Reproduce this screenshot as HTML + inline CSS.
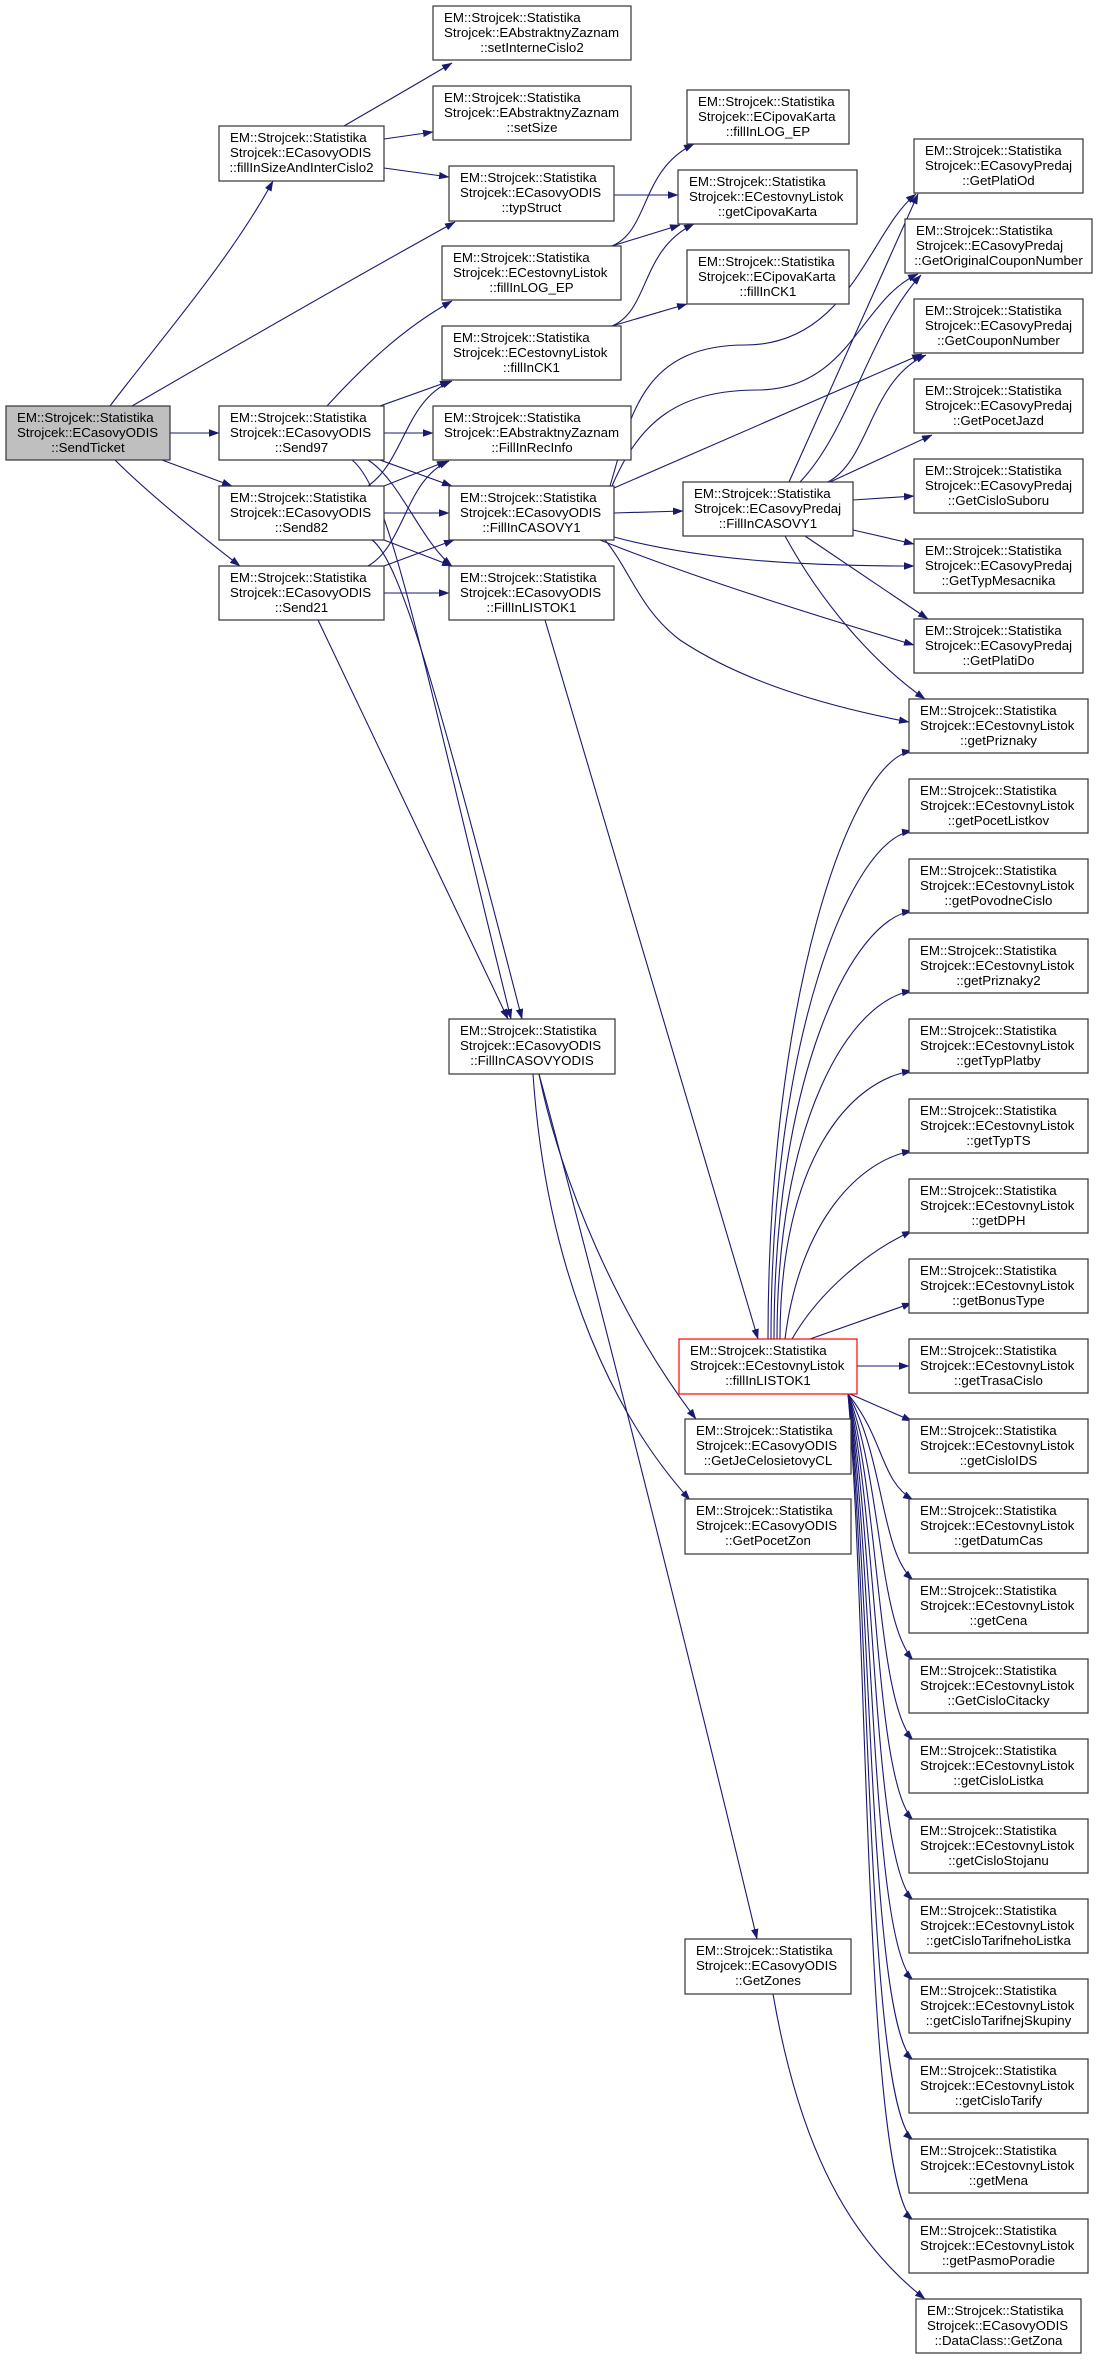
<!DOCTYPE html>
<html><head><meta charset="utf-8"><style>
html,body{margin:0;padding:0;background:#fff}
svg{display:block}
text{font-family:"Liberation Sans",Arial,sans-serif;font-size:13.3px;fill:#000}
.n{fill:#fff;stroke:#333;stroke-width:1.2}
.e{fill:none;stroke:#191970;stroke-width:1.1}
</style></head><body>
<svg width="1097" height="2360" viewBox="0 0 1097 2360" xmlns="http://www.w3.org/2000/svg">
<defs><marker id="a" markerWidth="11" markerHeight="8" refX="10" refY="4" orient="auto" markerUnits="userSpaceOnUse"><path d="M0,0.3 L10.5,4 L0,7.7z" fill="#191970"/></marker></defs>
<g class="e" marker-end="url(#a)">
<path d="M110,406 C160,340 230,260 273,181"/>
<path d="M132,406 C220,355 350,280 455,222"/>
<path d="M170,433 L219,433"/>
<path d="M162,460 L232,486"/>
<path d="M115,460 C150,495 200,535 240,566"/>
<path d="M344,126 C380,105 410,88 452,63"/>
<path d="M384,139 L433,132"/>
<path d="M384,168 L449,177"/>
<path d="M327,406 C360,370 400,330 452,301"/>
<path d="M380,406 L450,381"/>
<path d="M384,433 L433,433"/>
<path d="M380,460 L452,486"/>
<path d="M368,460 C400,480 420,540 452,566"/>
<path d="M352,460 C390,490 420,650 511,1019"/>
<path d="M368,486 C405,460 405,400 452,381"/>
<path d="M384,486 L447,461"/>
<path d="M384,513 L449,513"/>
<path d="M384,540 L452,566"/>
<path d="M372,540 C400,560 440,700 522,1019"/>
<path d="M368,566 C405,545 405,480 449,461"/>
<path d="M384,566 L454,540"/>
<path d="M384,593 L449,593"/>
<path d="M318,620 L508,1019"/>
<path d="M614,195 L678,195"/>
<path d="M612,246 C650,230 640,170 694,144"/>
<path d="M612,246 L680,225"/>
<path d="M612,326 C650,310 640,250 694,224"/>
<path d="M612,326 L687,304"/>
<path d="M610,486 C630,420 640,345 745,345 C850,345 870,230 916,194"/>
<path d="M612,486 C640,420 680,390 757,390 C850,390 860,300 918,274"/>
<path d="M614,488 L922,354"/>
<path d="M614,513 L683,511"/>
<path d="M614,537 C700,560 800,566 914,566"/>
<path d="M600,540 C700,580 830,620 914,645"/>
<path d="M605,540 C630,570 640,610 680,640 C740,680 820,705 909,722"/>
<path d="M789,482 L918,194"/>
<path d="M800,482 C850,430 870,330 921,275"/>
<path d="M828,482 C870,460 870,380 926,355"/>
<path d="M830,482 L932,435"/>
<path d="M853,500 L914,496"/>
<path d="M853,530 L914,544"/>
<path d="M805,536 L928,619"/>
<path d="M785,536 C820,600 870,660 925,699"/>
<path d="M545,620 L758,1339"/>
<path d="M539,1074 C560,1180 620,1320 696,1419"/>
<path d="M533,1074 C545,1250 600,1400 690,1500"/>
<path d="M539,1074 C600,1300 700,1700 757,1939"/>
<path d="M773,1994 C800,2150 850,2240 925,2299"/>
<path d="M768,1339 C768,1000 850,760 912,751"/>
<path d="M771,1339 C771,1040 850,840 912,831"/>
<path d="M774,1339 C774,1080 850,920 912,911"/>
<path d="M777,1339 C777,1120 850,1000 912,991"/>
<path d="M780,1339 C780,1160 850,1080 912,1071"/>
<path d="M785,1339 C800,1220 860,1160 912,1151"/>
<path d="M792,1339 C820,1290 870,1250 912,1231"/>
<path d="M810,1339 L912,1303"/>
<path d="M857,1366 L909,1366"/>
<path d="M850,1394 L912,1421"/>
<path d="M848,1394 C885,1440 880,1480 913,1500"/>
<path d="M848,1394 C885,1460 880,1550 913,1580"/>
<path d="M848,1394 C882,1480 878,1620 913,1660"/>
<path d="M848,1394 C880,1500 876,1700 913,1740"/>
<path d="M848,1394 C878,1520 874,1780 913,1820"/>
<path d="M848,1394 C876,1540 872,1860 913,1900"/>
<path d="M848,1394 C874,1560 870,1940 913,1980"/>
<path d="M848,1394 C872,1580 868,2020 913,2060"/>
<path d="M848,1394 C870,1600 866,2100 913,2140"/>
<path d="M848,1394 C868,1620 864,2180 913,2220"/>
</g>
<!-- nodes -->
<g>
<rect x="6" y="406" width="164" height="54" fill="#bfbfbf" stroke="#333" stroke-width="1.2"/>
<text x="17" y="422">EM::Strojcek::Statistika</text><text x="17" y="437">Strojcek::ECasovyODIS</text><text x="88" y="452" text-anchor="middle">::SendTicket</text>
</g>
<g>
<rect class="n" x="219" y="126" width="165" height="55"/><text x="230" y="142">EM::Strojcek::Statistika</text><text x="230" y="157">Strojcek::ECasovyODIS</text><text x="301.5" y="172" text-anchor="middle">::fillInSizeAndInterCislo2</text>
<rect class="n" x="219" y="406" width="165" height="54"/><text x="230" y="422">EM::Strojcek::Statistika</text><text x="230" y="437">Strojcek::ECasovyODIS</text><text x="301.5" y="452" text-anchor="middle">::Send97</text>
<rect class="n" x="219" y="486" width="165" height="54"/><text x="230" y="502">EM::Strojcek::Statistika</text><text x="230" y="517">Strojcek::ECasovyODIS</text><text x="301.5" y="532" text-anchor="middle">::Send82</text>
<rect class="n" x="219" y="566" width="165" height="54"/><text x="230" y="582">EM::Strojcek::Statistika</text><text x="230" y="597">Strojcek::ECasovyODIS</text><text x="301.5" y="612" text-anchor="middle">::Send21</text>

<rect class="n" x="433" y="6" width="198" height="54"/><text x="444" y="22">EM::Strojcek::Statistika</text><text x="444" y="37">Strojcek::EAbstraktnyZaznam</text><text x="532" y="52" text-anchor="middle">::setInterneCislo2</text>
<rect class="n" x="433" y="86" width="198" height="54"/><text x="444" y="102">EM::Strojcek::Statistika</text><text x="444" y="117">Strojcek::EAbstraktnyZaznam</text><text x="532" y="132" text-anchor="middle">::setSize</text>
<rect class="n" x="449" y="166" width="165" height="55"/><text x="460" y="182">EM::Strojcek::Statistika</text><text x="460" y="197">Strojcek::ECasovyODIS</text><text x="531.5" y="212" text-anchor="middle">::typStruct</text>
<rect class="n" x="442" y="246" width="179" height="54"/><text x="453" y="262">EM::Strojcek::Statistika</text><text x="453" y="277">Strojcek::ECestovnyListok</text><text x="531.5" y="292" text-anchor="middle">::fillInLOG_EP</text>
<rect class="n" x="442" y="326" width="179" height="54"/><text x="453" y="342">EM::Strojcek::Statistika</text><text x="453" y="357">Strojcek::ECestovnyListok</text><text x="531.5" y="372" text-anchor="middle">::fillInCK1</text>
<rect class="n" x="433" y="406" width="198" height="54"/><text x="444" y="422">EM::Strojcek::Statistika</text><text x="444" y="437">Strojcek::EAbstraktnyZaznam</text><text x="532" y="452" text-anchor="middle">::FillInRecInfo</text>
<rect class="n" x="449" y="486" width="165" height="54"/><text x="460" y="502">EM::Strojcek::Statistika</text><text x="460" y="517">Strojcek::ECasovyODIS</text><text x="531.5" y="532" text-anchor="middle">::FillInCASOVY1</text>
<rect class="n" x="449" y="566" width="165" height="54"/><text x="460" y="582">EM::Strojcek::Statistika</text><text x="460" y="597">Strojcek::ECasovyODIS</text><text x="531.5" y="612" text-anchor="middle">::FillInLISTOK1</text>
<rect class="n" x="449" y="1019" width="166" height="55"/><text x="460" y="1035">EM::Strojcek::Statistika</text><text x="460" y="1050">Strojcek::ECasovyODIS</text><text x="532" y="1065" text-anchor="middle">::FillInCASOVYODIS</text>

<rect class="n" x="687" y="90" width="162" height="54"/><text x="698" y="106">EM::Strojcek::Statistika</text><text x="698" y="121">Strojcek::ECipovaKarta</text><text x="768" y="136" text-anchor="middle">::fillInLOG_EP</text>
<rect class="n" x="678" y="170" width="179" height="54"/><text x="689" y="186">EM::Strojcek::Statistika</text><text x="689" y="201">Strojcek::ECestovnyListok</text><text x="767.5" y="216" text-anchor="middle">::getCipovaKarta</text>
<rect class="n" x="687" y="250" width="162" height="54"/><text x="698" y="266">EM::Strojcek::Statistika</text><text x="698" y="281">Strojcek::ECipovaKarta</text><text x="768" y="296" text-anchor="middle">::fillInCK1</text>
<rect class="n" x="683" y="482" width="170" height="54"/><text x="694" y="498">EM::Strojcek::Statistika</text><text x="694" y="513">Strojcek::ECasovyPredaj</text><text x="768" y="528" text-anchor="middle">::FillInCASOVY1</text>
<rect x="679" y="1339" width="178" height="55" fill="#fff" stroke="#ff0000" stroke-width="1.2"/><text x="690" y="1355">EM::Strojcek::Statistika</text><text x="690" y="1370">Strojcek::ECestovnyListok</text><text x="768" y="1385" text-anchor="middle">::fillInLISTOK1</text>
<rect class="n" x="685" y="1419" width="166" height="55"/><text x="696" y="1435">EM::Strojcek::Statistika</text><text x="696" y="1450">Strojcek::ECasovyODIS</text><text x="768" y="1465" text-anchor="middle">::GetJeCelosietovyCL</text>
<rect class="n" x="685" y="1499" width="166" height="55"/><text x="696" y="1515">EM::Strojcek::Statistika</text><text x="696" y="1530">Strojcek::ECasovyODIS</text><text x="768" y="1545" text-anchor="middle">::GetPocetZon</text>
<rect class="n" x="685" y="1939" width="166" height="55"/><text x="696" y="1955">EM::Strojcek::Statistika</text><text x="696" y="1970">Strojcek::ECasovyODIS</text><text x="768" y="1985" text-anchor="middle">::GetZones</text>

<rect class="n" x="914" y="139" width="169" height="54"/><text x="925" y="155">EM::Strojcek::Statistika</text><text x="925" y="170">Strojcek::ECasovyPredaj</text><text x="998.5" y="185" text-anchor="middle">::GetPlatiOd</text>
<rect class="n" x="905" y="219" width="187" height="54"/><text x="916" y="235">EM::Strojcek::Statistika</text><text x="916" y="250">Strojcek::ECasovyPredaj</text><text x="998.5" y="265" text-anchor="middle">::GetOriginalCouponNumber</text>
<rect class="n" x="914" y="299" width="169" height="54"/><text x="925" y="315">EM::Strojcek::Statistika</text><text x="925" y="330">Strojcek::ECasovyPredaj</text><text x="998.5" y="345" text-anchor="middle">::GetCouponNumber</text>
<rect class="n" x="914" y="379" width="169" height="54"/><text x="925" y="395">EM::Strojcek::Statistika</text><text x="925" y="410">Strojcek::ECasovyPredaj</text><text x="998.5" y="425" text-anchor="middle">::GetPocetJazd</text>
<rect class="n" x="914" y="459" width="169" height="54"/><text x="925" y="475">EM::Strojcek::Statistika</text><text x="925" y="490">Strojcek::ECasovyPredaj</text><text x="998.5" y="505" text-anchor="middle">::GetCisloSuboru</text>
<rect class="n" x="914" y="539" width="169" height="54"/><text x="925" y="555">EM::Strojcek::Statistika</text><text x="925" y="570">Strojcek::ECasovyPredaj</text><text x="998.5" y="585" text-anchor="middle">::GetTypMesacnika</text>
<rect class="n" x="914" y="619" width="169" height="54"/><text x="925" y="635">EM::Strojcek::Statistika</text><text x="925" y="650">Strojcek::ECasovyPredaj</text><text x="998.5" y="665" text-anchor="middle">::GetPlatiDo</text>
<rect class="n" x="909" y="699" width="179" height="54"/><text x="920" y="715">EM::Strojcek::Statistika</text><text x="920" y="730">Strojcek::ECestovnyListok</text><text x="998.5" y="745" text-anchor="middle">::getPriznaky</text>
<rect class="n" x="909" y="779" width="179" height="54"/><text x="920" y="795">EM::Strojcek::Statistika</text><text x="920" y="810">Strojcek::ECestovnyListok</text><text x="998.5" y="825" text-anchor="middle">::getPocetListkov</text>
<rect class="n" x="909" y="859" width="179" height="54"/><text x="920" y="875">EM::Strojcek::Statistika</text><text x="920" y="890">Strojcek::ECestovnyListok</text><text x="998.5" y="905" text-anchor="middle">::getPovodneCislo</text>
<rect class="n" x="909" y="939" width="179" height="54"/><text x="920" y="955">EM::Strojcek::Statistika</text><text x="920" y="970">Strojcek::ECestovnyListok</text><text x="998.5" y="985" text-anchor="middle">::getPriznaky2</text>
<rect class="n" x="909" y="1019" width="179" height="54"/><text x="920" y="1035">EM::Strojcek::Statistika</text><text x="920" y="1050">Strojcek::ECestovnyListok</text><text x="998.5" y="1065" text-anchor="middle">::getTypPlatby</text>
<rect class="n" x="909" y="1099" width="179" height="54"/><text x="920" y="1115">EM::Strojcek::Statistika</text><text x="920" y="1130">Strojcek::ECestovnyListok</text><text x="998.5" y="1145" text-anchor="middle">::getTypTS</text>
<rect class="n" x="909" y="1179" width="179" height="54"/><text x="920" y="1195">EM::Strojcek::Statistika</text><text x="920" y="1210">Strojcek::ECestovnyListok</text><text x="998.5" y="1225" text-anchor="middle">::getDPH</text>
<rect class="n" x="909" y="1259" width="179" height="54"/><text x="920" y="1275">EM::Strojcek::Statistika</text><text x="920" y="1290">Strojcek::ECestovnyListok</text><text x="998.5" y="1305" text-anchor="middle">::getBonusType</text>
<rect class="n" x="909" y="1339" width="179" height="54"/><text x="920" y="1355">EM::Strojcek::Statistika</text><text x="920" y="1370">Strojcek::ECestovnyListok</text><text x="998.5" y="1385" text-anchor="middle">::getTrasaCislo</text>
<rect class="n" x="909" y="1419" width="179" height="54"/><text x="920" y="1435">EM::Strojcek::Statistika</text><text x="920" y="1450">Strojcek::ECestovnyListok</text><text x="998.5" y="1465" text-anchor="middle">::getCisloIDS</text>
<rect class="n" x="909" y="1499" width="179" height="54"/><text x="920" y="1515">EM::Strojcek::Statistika</text><text x="920" y="1530">Strojcek::ECestovnyListok</text><text x="998.5" y="1545" text-anchor="middle">::getDatumCas</text>
<rect class="n" x="909" y="1579" width="179" height="54"/><text x="920" y="1595">EM::Strojcek::Statistika</text><text x="920" y="1610">Strojcek::ECestovnyListok</text><text x="998.5" y="1625" text-anchor="middle">::getCena</text>
<rect class="n" x="909" y="1659" width="179" height="54"/><text x="920" y="1675">EM::Strojcek::Statistika</text><text x="920" y="1690">Strojcek::ECestovnyListok</text><text x="998.5" y="1705" text-anchor="middle">::GetCisloCitacky</text>
<rect class="n" x="909" y="1739" width="179" height="54"/><text x="920" y="1755">EM::Strojcek::Statistika</text><text x="920" y="1770">Strojcek::ECestovnyListok</text><text x="998.5" y="1785" text-anchor="middle">::getCisloListka</text>
<rect class="n" x="909" y="1819" width="179" height="54"/><text x="920" y="1835">EM::Strojcek::Statistika</text><text x="920" y="1850">Strojcek::ECestovnyListok</text><text x="998.5" y="1865" text-anchor="middle">::getCisloStojanu</text>
<rect class="n" x="909" y="1899" width="179" height="54"/><text x="920" y="1915">EM::Strojcek::Statistika</text><text x="920" y="1930">Strojcek::ECestovnyListok</text><text x="998.5" y="1945" text-anchor="middle">::getCisloTarifnehoListka</text>
<rect class="n" x="909" y="1979" width="179" height="54"/><text x="920" y="1995">EM::Strojcek::Statistika</text><text x="920" y="2010">Strojcek::ECestovnyListok</text><text x="998.5" y="2025" text-anchor="middle">::getCisloTarifnejSkupiny</text>
<rect class="n" x="909" y="2059" width="179" height="54"/><text x="920" y="2075">EM::Strojcek::Statistika</text><text x="920" y="2090">Strojcek::ECestovnyListok</text><text x="998.5" y="2105" text-anchor="middle">::getCisloTarify</text>
<rect class="n" x="909" y="2139" width="179" height="54"/><text x="920" y="2155">EM::Strojcek::Statistika</text><text x="920" y="2170">Strojcek::ECestovnyListok</text><text x="998.5" y="2185" text-anchor="middle">::getMena</text>
<rect class="n" x="909" y="2219" width="179" height="54"/><text x="920" y="2235">EM::Strojcek::Statistika</text><text x="920" y="2250">Strojcek::ECestovnyListok</text><text x="998.5" y="2265" text-anchor="middle">::getPasmoPoradie</text>
<rect class="n" x="916" y="2299" width="165" height="54"/><text x="927" y="2315">EM::Strojcek::Statistika</text><text x="927" y="2330">Strojcek::ECasovyODIS</text><text x="998.5" y="2345" text-anchor="middle">::DataClass::GetZona</text>
</g>
</svg>
</body></html>
